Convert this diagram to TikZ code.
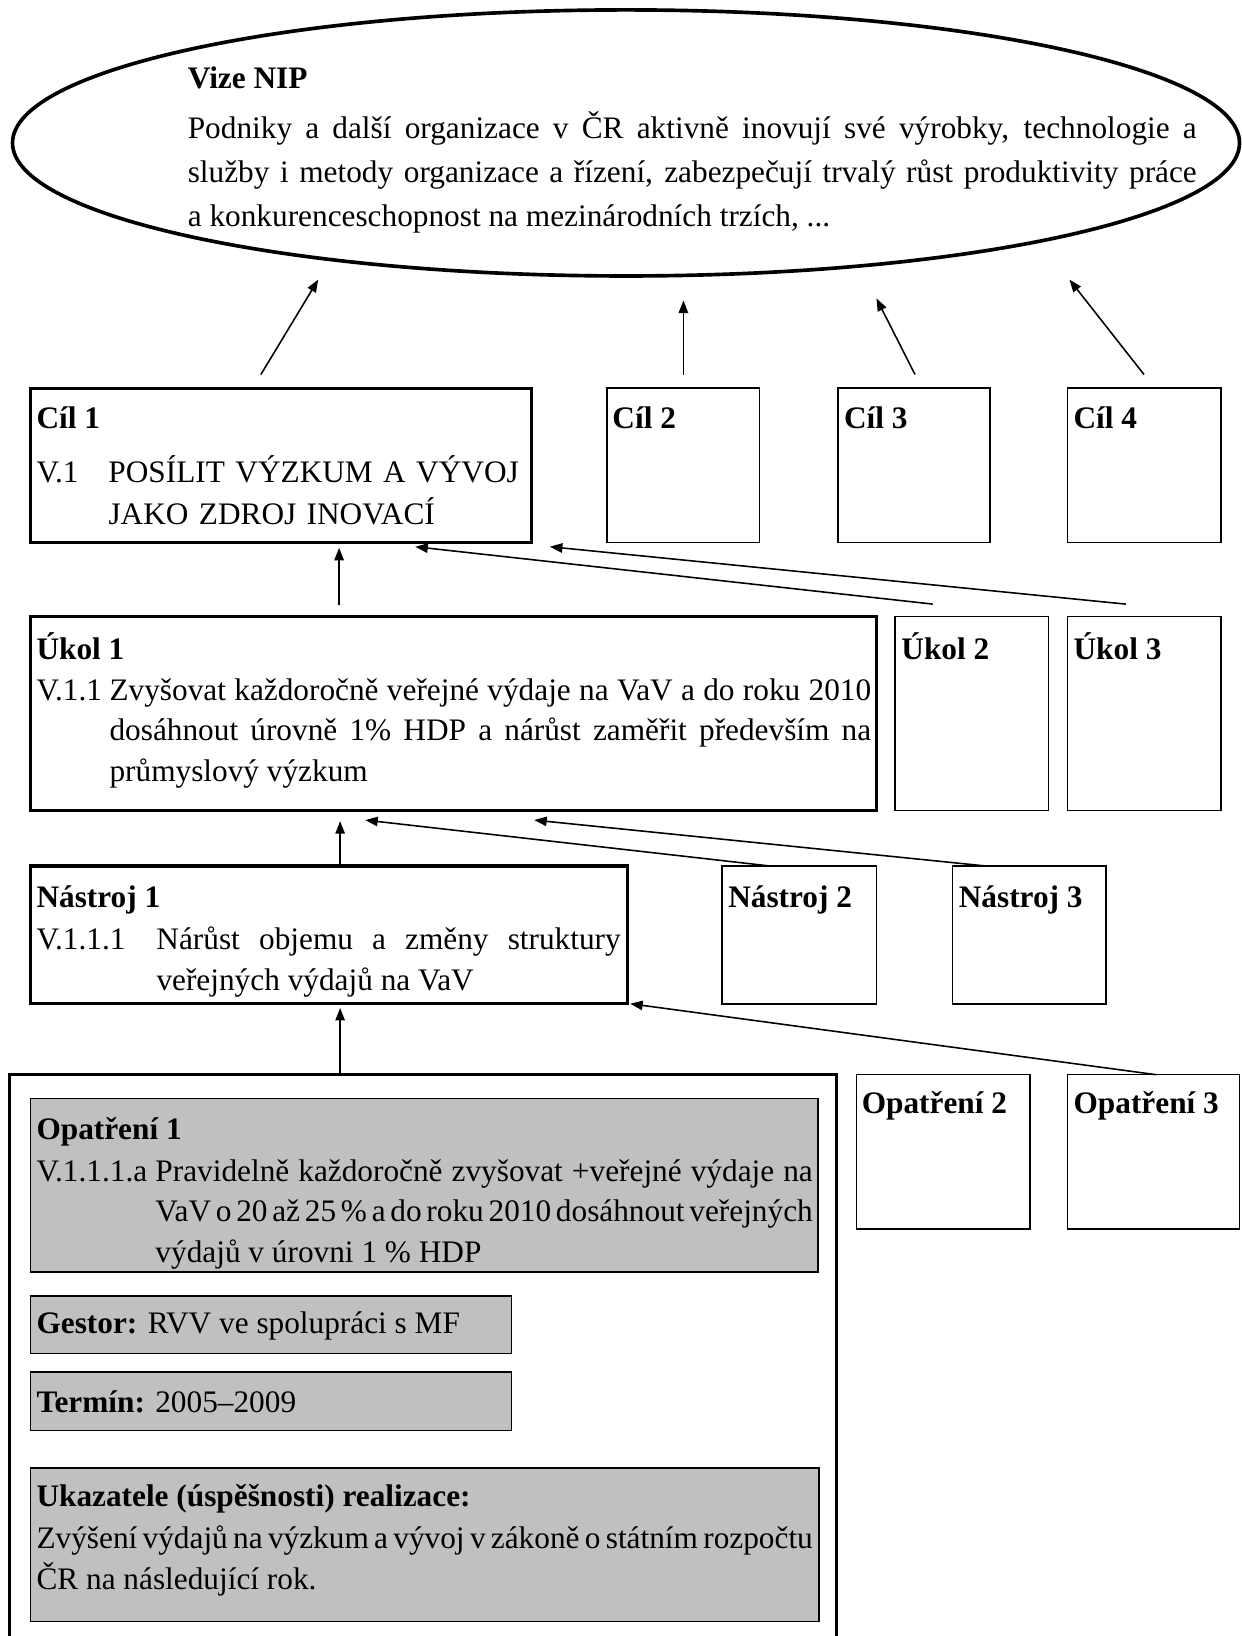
\documentclass[tikz,border=0pt]{standalone}
\usepackage{fontspec}
\setmainfont{Liberation Serif}
\usetikzlibrary{shapes.geometric,arrows.meta}
\definecolor{boxgrey}{RGB}{192,192,192}

\begin{document}
\begin{tikzpicture}[x=1pt,y=-1pt,
        >={Triangle[length=6pt,width=4.5pt]},
        every node/.style={inner sep=0pt,outer sep=0pt,font=\fontsize{15pt}{19.5pt}\selectfont},
        bigbox/.style={draw,line width=1.5pt,anchor=north west},
        smallbox/.style={draw,line width=0.75pt,anchor=north west},
        greybox/.style={draw,fill=boxgrey,line width=0.6pt,anchor=north west},
        head/.style={anchor=base west,font=\fontsize{15pt}{19.5pt}\selectfont\bfseries},
        txt/.style={anchor=base west,align=justify},
        link/.style={->,line width=0.75pt}]
        \useasboundingbox (0,0) rectangle (595,784);
        \clip (0,0) rectangle (595,784);

        \node[draw,ellipse,line width=1.75pt,minimum width=588pt,minimum height=127.5pt] (vize) at (300,68.5) {};
        \node[head] (vizeh) at (90,42.5) {Vize NIP};
        \node[txt,text width=483.5pt,font=\fontsize{15pt}{21pt}\selectfont] (vizet) at (90,66.5)
            {Podniky a další organizace v~ČR aktivně inovují své výrobky, technologie a\linebreak
            služby i metody organizace a řízení, zabezpečují trvalý růst produktivity práce\linebreak
            a konkurenceschopnost na mezinárodních trzích, ...\par};

        \node[bigbox,minimum width=240pt,minimum height=74pt] (cil1) at (14.5,186) {};
        \node[smallbox,minimum width=73pt,minimum height=74pt] (cil2) at (291,186) {};
        \node[smallbox,minimum width=73pt,minimum height=74pt] (cil3) at (401.5,186) {};
        \node[smallbox,minimum width=73.5pt,minimum height=74pt] (cil4) at (511.5,186) {};
        \node[head] (cil1h) at (17.5,205.5) {Cíl 1};
        \node[head] (cil2h) at (293.5,205.5) {Cíl 2};
        \node[head] (cil3h) at (404.5,205.5) {Cíl 3};
        \node[head] (cil4h) at (514.5,205.5) {Cíl 4};
        \node[anchor=base west,align=left,text width=237pt,font=\fontsize{15pt}{20.5pt}\selectfont] (cil1t) at (17.5,231)
            {\hangindent=34.5pt\hangafter=1 \makebox[34.5pt][l]{V.1}POSÍLIT VÝZKUM A VÝVOJ\newline JAKO ZDROJ INOVACÍ\par};

        \node[bigbox,minimum width=405.5pt,minimum height=93pt] (ukol1) at (14.5,295.5) {};
        \node[smallbox,minimum width=73.5pt,minimum height=93pt] (ukol2) at (429,295.5) {};
        \node[smallbox,minimum width=73.5pt,minimum height=93pt] (ukol3) at (511.5,295.5) {};
        \node[head] (ukol1h) at (17.5,316) {Úkol 1};
        \node[head] (ukol2h) at (432,316) {Úkol 2};
        \node[head] (ukol3h) at (514.5,316) {Úkol 3};
        \node[txt,text width=400pt] (ukol1t) at (17.5,335.5)
            {\hangindent=35pt\hangafter=1 \makebox[35pt][l]{V.1.1}Zvyšovat každoročně veřejné výdaje na VaV a do roku 2010\linebreak
            dosáhnout úrovně 1\% HDP a nárůst zaměřit především na\linebreak průmyslový výzkum\par};

        \node[bigbox,minimum width=286pt,minimum height=66pt] (nastroj1) at (14.5,415) {};
        \node[smallbox,minimum width=74pt,minimum height=66pt] (nastroj2) at (346,415) {};
        \node[smallbox,minimum width=73.5pt,minimum height=66pt] (nastroj3) at (456.5,415) {};
        \node[head] (nastroj1h) at (17.5,435) {Nástroj 1};
        \node[head] (nastroj2h) at (349,435) {Nástroj 2};
        \node[head] (nastroj3h) at (459.5,435) {Nástroj 3};
        \node[txt,text width=280pt] (nastroj1t) at (17.5,455)
            {\hangindent=57.5pt\hangafter=1 \makebox[57.5pt][l]{V.1.1.1}Nárůst objemu a změny struktury\linebreak veřejných výdajů na VaV\par};

        \node[bigbox,minimum width=396.5pt,minimum height=285pt] (ramec) at (4.5,515) {};
        \node[smallbox,minimum width=83pt,minimum height=74pt] (opatreni2) at (410.5,515) {};
        \node[smallbox,minimum width=82.5pt,minimum height=74pt] (opatreni3) at (511.5,515) {};
        \node[head] (opatreni2h) at (413,533.5) {Opatření 2};
        \node[head] (opatreni3h) at (514.5,533.5) {Opatření 3};

        \node[greybox,minimum width=377.5pt,minimum height=83pt] (opatreni1) at (14.5,526.5) {};
        \node[head] (opatreni1h) at (17.5,546) {Opatření 1};
        \node[txt,text width=372pt] (opatreni1t) at (17.5,566)
            {\hangindent=57pt\hangafter=1 \makebox[57pt][l]{V.1.1.1.a}Pravidelně každoročně zvyšovat +veřejné výdaje na\linebreak
            \spaceskip=2pt plus 4pt minus 0.5pt VaV o 20 až 25 \% a do roku 2010 dosáhnout veřejných\linebreak
            \spaceskip=0pt výdajů v~úrovni 1 \% HDP\par};

        \node[greybox,minimum width=230.5pt,minimum height=27.5pt] (gestor) at (14.5,621) {};
        \node[anchor=base west] (gestort) at (17.5,639) {\textbf{Gestor:} RVV ve spolupráci s MF};
        \node[greybox,minimum width=230.5pt,minimum height=28pt] (termin) at (14.5,657.5) {};
        \node[anchor=base west] (termint) at (17.5,677) {\textbf{Termín:} 2005–2009};

        \node[greybox,minimum width=378pt,minimum height=73.5pt] (ukazatele) at (14.5,703.5) {};
        \node[head] (ukazateleh) at (17.5,722) {Ukazatele (úspěšnosti) realizace:};
        \node[txt,text width=372pt] (ukazatelet) at (17.5,742)
            {\spaceskip=2.4pt plus 4pt minus 0.5pt Zvýšení výdajů na výzkum a vývoj v~zákoně o státním rozpočtu\linebreak
            \spaceskip=0pt ČR na následující rok.\par};

        \draw[link] ([shift={(110.5,-6.5)}]cil1.north west) -- ([shift={(-147.5,1.75)}]vize.south);
        \draw[link] ([shift={(0,-6.5)}]cil2.north) -- ([shift={(27.5,11.75)}]vize.south);
        \draw[link] ([shift={(0.5,-6.5)}]cil3.north) -- ([shift={(120,10.75)}]vize.south);
        \draw[link] ([shift={(0,-6.5)}]cil4.north) -- ([shift={(212.5,1.75)}]vize.south);
        \draw[link] ([shift={(148,-5.5)}]ukol1.north west) -- ([shift={(148,2.5)}]cil1.south west);
        \draw[link] ([shift={(-18.75,-6)}]ukol2.north) -- ([shift={(184.5,2)}]cil1.south west);
        \draw[link] ([shift={(-8.75,-6)}]ukol3.north) -- ([shift={(9,2)}]cil1.south east);
        \draw[link] ([xshift=148.5pt]nastroj1.north west) -- ([shift={(148.5,5)}]ukol1.south west);
        \draw[link] ([xshift=23pt]nastroj2.north west) -- ([shift={(160.5,4.5)}]ukol1.south west);
        \draw[link] ([xshift=16pt]nastroj3.north west) -- ([shift={(241.5,4.5)}]ukol1.south west);
        \draw[link] ([xshift=158.5pt]ramec.north west) -- ([shift={(148.5,2)}]nastroj1.south west);
        \draw[link] ([xshift=42.5pt]opatreni3.north west) -- ([shift={(1.5,0)}]nastroj1.south east);
    \end{tikzpicture}
\end{document}
